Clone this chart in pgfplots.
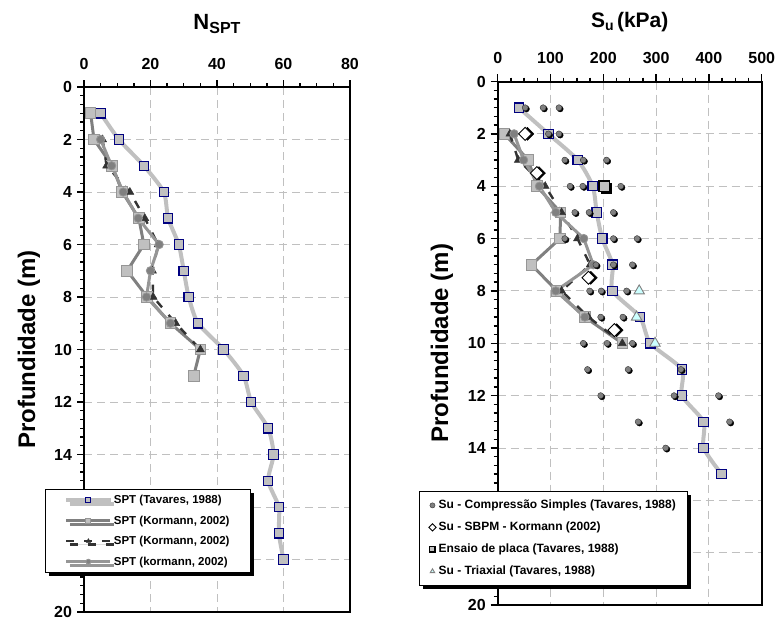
\documentclass[border=0pt]{standalone}
\usepackage{fontspec}
\setmainfont{Liberation Sans}
\usepackage{pgfplots}
\usepackage{pgfplotstable}
\pgfplotsset{compat=1.18}
\usetikzlibrary{shadows}
\definecolor{lg}{HTML}{C0C0C0}
\definecolor{mg}{HTML}{808080}
\definecolor{mgb}{HTML}{969696}
\definecolor{dk}{HTML}{333333}
\definecolor{navyb}{HTML}{000080}
\definecolor{cyanl}{HTML}{CCFFFF}
% tick positions (axis decoration): d = position, e = unused
\pgfplotstableread{
d e
0 0
2 0
4 0
6 0
8 0
10 0
12 0
14 0
16 0
18 0
20 0
}\ymajor
\pgfplotstableread{
d e
0.333 0
0.667 0
1 0
1.333 0
1.667 0
2.333 0
2.667 0
3 0
3.333 0
3.667 0
4.333 0
4.667 0
5 0
5.333 0
5.667 0
6.333 0
6.667 0
7 0
7.333 0
7.667 0
8.333 0
8.667 0
9 0
9.333 0
9.667 0
10.333 0
10.667 0
11 0
11.333 0
11.667 0
12.333 0
12.667 0
13 0
13.333 0
13.667 0
14.333 0
14.667 0
15 0
15.333 0
15.667 0
16.333 0
16.667 0
17 0
17.333 0
17.667 0
18.333 0
18.667 0
19 0
19.333 0
19.667 0
}\yminor
\pgfplotstableread{
d e
0 0
20 0
40 0
60 0
80 0
}\lxmajor
\pgfplotstableread{
d e
5 0
10 0
15 0
25 0
30 0
35 0
45 0
50 0
55 0
65 0
70 0
75 0
}\lxminor
\pgfplotstableread{
d e
0 0
100 0
200 0
300 0
400 0
500 0
}\rxmajor
\pgfplotstableread{
d e
25 0
50 0
75 0
125 0
150 0
175 0
225 0
250 0
275 0
325 0
350 0
375 0
425 0
450 0
475 0
}\rxminor
\pgfplotsset{
  common/.style={
    scale only axis,
    clip=false,
    y dir=reverse,
    ymin=0, ymax=20,
    ytick={0,2,...,20},
    yticklabels={0,2,4,6,8,10,12,14,,,20},
    minor y tick num=5,
    minor x tick num=3,
    xtick pos=right,
    xticklabel pos=right,
    ytick pos=left,
    tick align=outside,
    major tick length=7pt,
    minor tick length=4pt,
    every tick/.append style={draw=black, line width=1.4pt},
    axis line style={black, line width=2pt},
    grid=major,
    major grid style={lg, line width=0.9pt, dash pattern=on 8pt off 5pt},
    /pgf/number format/assume math mode=true,
    tick label style={font=\fontsize{16}{16}\selectfont\bfseries},
    xticklabel style={yshift=7pt},
    yticklabel style={xshift=-1.5pt},
    every axis title shift=0pt,
    ylabel={Profundidade (m)},
    label style={font=\fontsize{24}{24}\selectfont\bfseries},
  },
  tk/.style={forget plot, black, line width=1.4pt, mark=none, solid},
}
\begin{document}
\begin{tikzpicture}
\path[use as bounding box] (0pt,0pt) rectangle (776pt,-621pt);
% ---------------- left: NSPT ----------------
\begin{axis}[common,
  at={(84pt,-87pt)}, anchor=north west,
  width=266pt, height=525pt,
  xmin=0, xmax=80, xtick={0,20,...,80},
  title={N\raisebox{-4pt}{\fontsize{16}{16}\selectfont SPT}},
  title style={at={(axis description cs:0.5,1)}, anchor=base, yshift=58pt, font=\fontsize{22}{22}\selectfont\bfseries},
  ylabel style={at={(axis description cs:-0.184,0.5)}, anchor=base},
  legend style={at={(axis description cs:-0.147,0.234)}, anchor=north west,
    draw=black, line width=1pt, fill=white,
    font=\fontsize{11.5}{14}\selectfont\bfseries,
    nodes={inner ysep=2pt, inner xsep=1.5pt, text height=10pt, text depth=3pt},
    row sep=3.5pt, inner xsep=19pt, inner ysep=2pt,
    drop shadow={shadow xshift=3.5pt, shadow yshift=-3.5pt, fill=black, opacity=1}},
  legend cell align=left,
  legend image code/.code={\draw[mark repeat=2,mark phase=2,#1] plot coordinates {(0pt,0pt) (22pt,0pt) (44pt,0pt)};},
  legend image post style={mark size=2.5pt},
]
% ticks
\addplot[tk, xcomb] table[x expr=-2.1, y=d] {\ymajor};
\addplot[tk, xcomb] table[x expr=-1.2, y=d] {\yminor};
\addplot[tk, ycomb] table[x=d, y expr=-0.27] {\lxmajor};
\addplot[tk, ycomb] table[x=d, y expr=-0.15] {\lxminor};
% data
\addplot[lg, line width=4pt, smooth, tension=0.4, mark=square*, mark size=4.7pt,
  mark options={fill=lg, draw=navyb, line width=1.1pt, solid}]
  coordinates {(5,1) (10.5,2) (18,3) (24,4) (25.3,5) (28.5,6) (30,7) (31.5,8) (34.3,9) (42,10) (48,11) (50.3,12) (55.4,13) (57,14) (55.4,15) (58.6,16) (58.6,17) (60,18)};
\addlegendentry{SPT (Tavares, 1988)}
\addplot[mg, line width=3pt, mark=square*, mark size=5.3pt,
  mark options={fill=lg, draw=mgb, line width=1pt, solid}]
  coordinates {(2,1) (3,2) (8.5,3) (11.5,4) (16.5,5) (18,6) (13,7) (19,8) (26,9) (35,10) (33,11)};
\addlegendentry{SPT (Kormann, 2002)}
\addplot[dk, line width=2.4pt, dash pattern=on 8pt off 10pt, mark=triangle*, mark size=4.5pt,
  mark options={fill=dk, draw=dk, solid, line width=0.5pt}]
  coordinates {(5.6,2) (6.8,3) (13.8,4) (18.3,5) (22.3,6) (20.6,7) (20.8,8) (27.6,9) (35,10)};
\addlegendentry{SPT (Kormann, 2002)}
\addplot[mgb, line width=3pt, mark=*, mark size=4.2pt,
  mark options={fill=mg, draw=mgb, line width=0.8pt, solid}]
  coordinates {(5,2) (8.3,3) (11.8,4) (16.3,5) (22.6,6) (20,7) (18.8,8) (26,9)};
\addlegendentry{SPT (kormann, 2002)}
\end{axis}
% ---------------- right: Su ----------------
\begin{axis}[common,
  at={(497.7pt,-81.5pt)}, anchor=north west,
  width=264pt, height=523.5pt,
  xmin=0, xmax=500, xtick={0,100,...,500},
  title={S\raisebox{-3pt}{\fontsize{14}{14}\selectfont u}\,(kPa)},
  title style={at={(axis description cs:0.5,1)}, anchor=base, yshift=54pt, font=\fontsize{21}{21}\selectfont\bfseries},
  ylabel style={at={(axis description cs:-0.188,0.5)}, anchor=base},
  legend style={at={(axis description cs:-0.297,0.218)}, anchor=north west,
    draw=black, line width=1pt, fill=white,
    font=\fontsize{12}{14}\selectfont\bfseries,
    nodes={inner ysep=2pt, inner xsep=2.5pt, text height=9pt, text depth=3pt},
    row sep=6pt, inner xsep=9pt, inner ysep=6pt,
    drop shadow={shadow xshift=3.5pt, shadow yshift=-3.5pt, fill=black, opacity=1}},
  legend cell align=left,
  legend image code/.code={\draw[#1] plot coordinates {(0pt,0pt)};},
  legend image post style={mark size=2.6pt},
]
% ticks
\addplot[tk, xcomb] table[x expr=-13.3, y=d] {\ymajor};
\addplot[tk, xcomb] table[x expr=-7.6, y=d] {\yminor};
\addplot[tk, ycomb] table[x=d, y expr=-0.27] {\rxmajor};
\addplot[tk, ycomb] table[x=d, y expr=-0.15] {\rxminor};
% data
\addplot[forget plot, lg, line width=4pt, smooth, tension=0.4, mark=square*, mark size=4.7pt,
  mark options={fill=lg, draw=navyb, line width=1.1pt, solid}]
  coordinates {(40,1) (96,2) (151.5,3) (180,4) (187.5,5) (198,6) (217.6,7) (217.6,8) (269.5,9) (289,10) (349,11) (349,12) (390,13) (390,14) (424,15)};
\addplot[forget plot, mg, line width=3pt, mark=square*, mark size=5.3pt,
  mark options={fill=lg, draw=mgb, line width=1pt, solid}]
  coordinates {(12.6,2) (58,3) (74,4) (119,5) (118,6) (64,7) (112,8) (165,9) (236,10)};
\addplot[forget plot, dk, line width=2.4pt, dash pattern=on 8pt off 10pt, mark=triangle*, mark size=4.5pt,
  mark options={fill=dk, draw=dk, solid, line width=0.5pt}]
  coordinates {(23,2) (39,3) (90,4) (121,5) (151,6) (175,7) (121,8) (172,9) (236,10)};
\addplot[forget plot, mgb, line width=3pt, mark=*, mark size=4.2pt,
  mark options={fill=mg, draw=mgb, line width=0.8pt, solid}]
  coordinates {(31,2) (49,3) (79,4) (110,5) (163,6) (181,7) (110,8) (165,9)};
% compressao simples (shadow then dot)
\addplot[forget plot, only marks, mark=*, mark size=3pt,
  mark options={fill=black, draw=black, xshift=1.3pt, yshift=-1.3pt}]
  coordinates {(52,1) (86,1) (116,1) (96,2) (116,2) (127,3) (162,3) (206,3) (137,4) (161,4) (233,4)
  (146,5) (173,5) (219,5) (127,6) (219,6) (264,6) (186,7) (219,7) (255,7) (174,8) (196,8) (244,8)
  (195,9) (237,9) (162,10) (207,10) (255,10) (170,11) (247,11) (347,11) (195,12) (334,12) (418,12)
  (266,13) (439,13) (318,14)};
\addplot[only marks, mark=*, mark size=3pt,
  mark options={fill=mg, draw=dk, line width=0.4pt}]
  coordinates {(52,1) (86,1) (116,1) (96,2) (116,2) (127,3) (162,3) (206,3) (137,4) (161,4) (233,4)
  (146,5) (173,5) (219,5) (127,6) (219,6) (264,6) (186,7) (219,7) (255,7) (174,8) (196,8) (244,8)
  (195,9) (237,9) (162,10) (207,10) (255,10) (170,11) (247,11) (347,11) (195,12) (334,12) (418,12)
  (266,13) (439,13) (318,14)};
\addlegendentry{Su - Compressão Simples (Tavares, 1988)}
% SBPM diamonds
\addplot[forget plot, only marks, mark=square*, mark size=4.6pt,
  mark options={rotate=45, fill=black, draw=black, xshift=1.6pt, yshift=-1.6pt}]
  coordinates {(52,2) (74,3.5) (172,7.5) (221,9.5)};
\addplot[only marks, mark=square*, mark size=4.6pt,
  mark options={rotate=45, fill=white, draw=black, line width=0.9pt}]
  coordinates {(52,2) (74,3.5) (172,7.5) (221,9.5)};
\addlegendentry{Su - SBPM - Kormann (2002)}
% Ensaio de placa
\addplot[forget plot, only marks, mark=square*, mark size=5.3pt,
  mark options={fill=black, draw=black, xshift=1.8pt, yshift=-1.8pt}]
  coordinates {(202,4)};
\addplot[only marks, mark=square*, mark size=5.3pt,
  mark options={fill=lg, draw=black, line width=1.2pt}]
  coordinates {(202,4)};
\addlegendentry{Ensaio de placa (Tavares, 1988)}
% Triaxial
\addplot[only marks, mark=triangle*, mark size=6pt,
  mark options={fill=cyanl, draw=mg, line width=0.9pt}]
  coordinates {(268,8) (263,9) (298,10)};
\addlegendentry{Su - Triaxial (Tavares, 1988)}
\end{axis}
\end{tikzpicture}
\end{document}
